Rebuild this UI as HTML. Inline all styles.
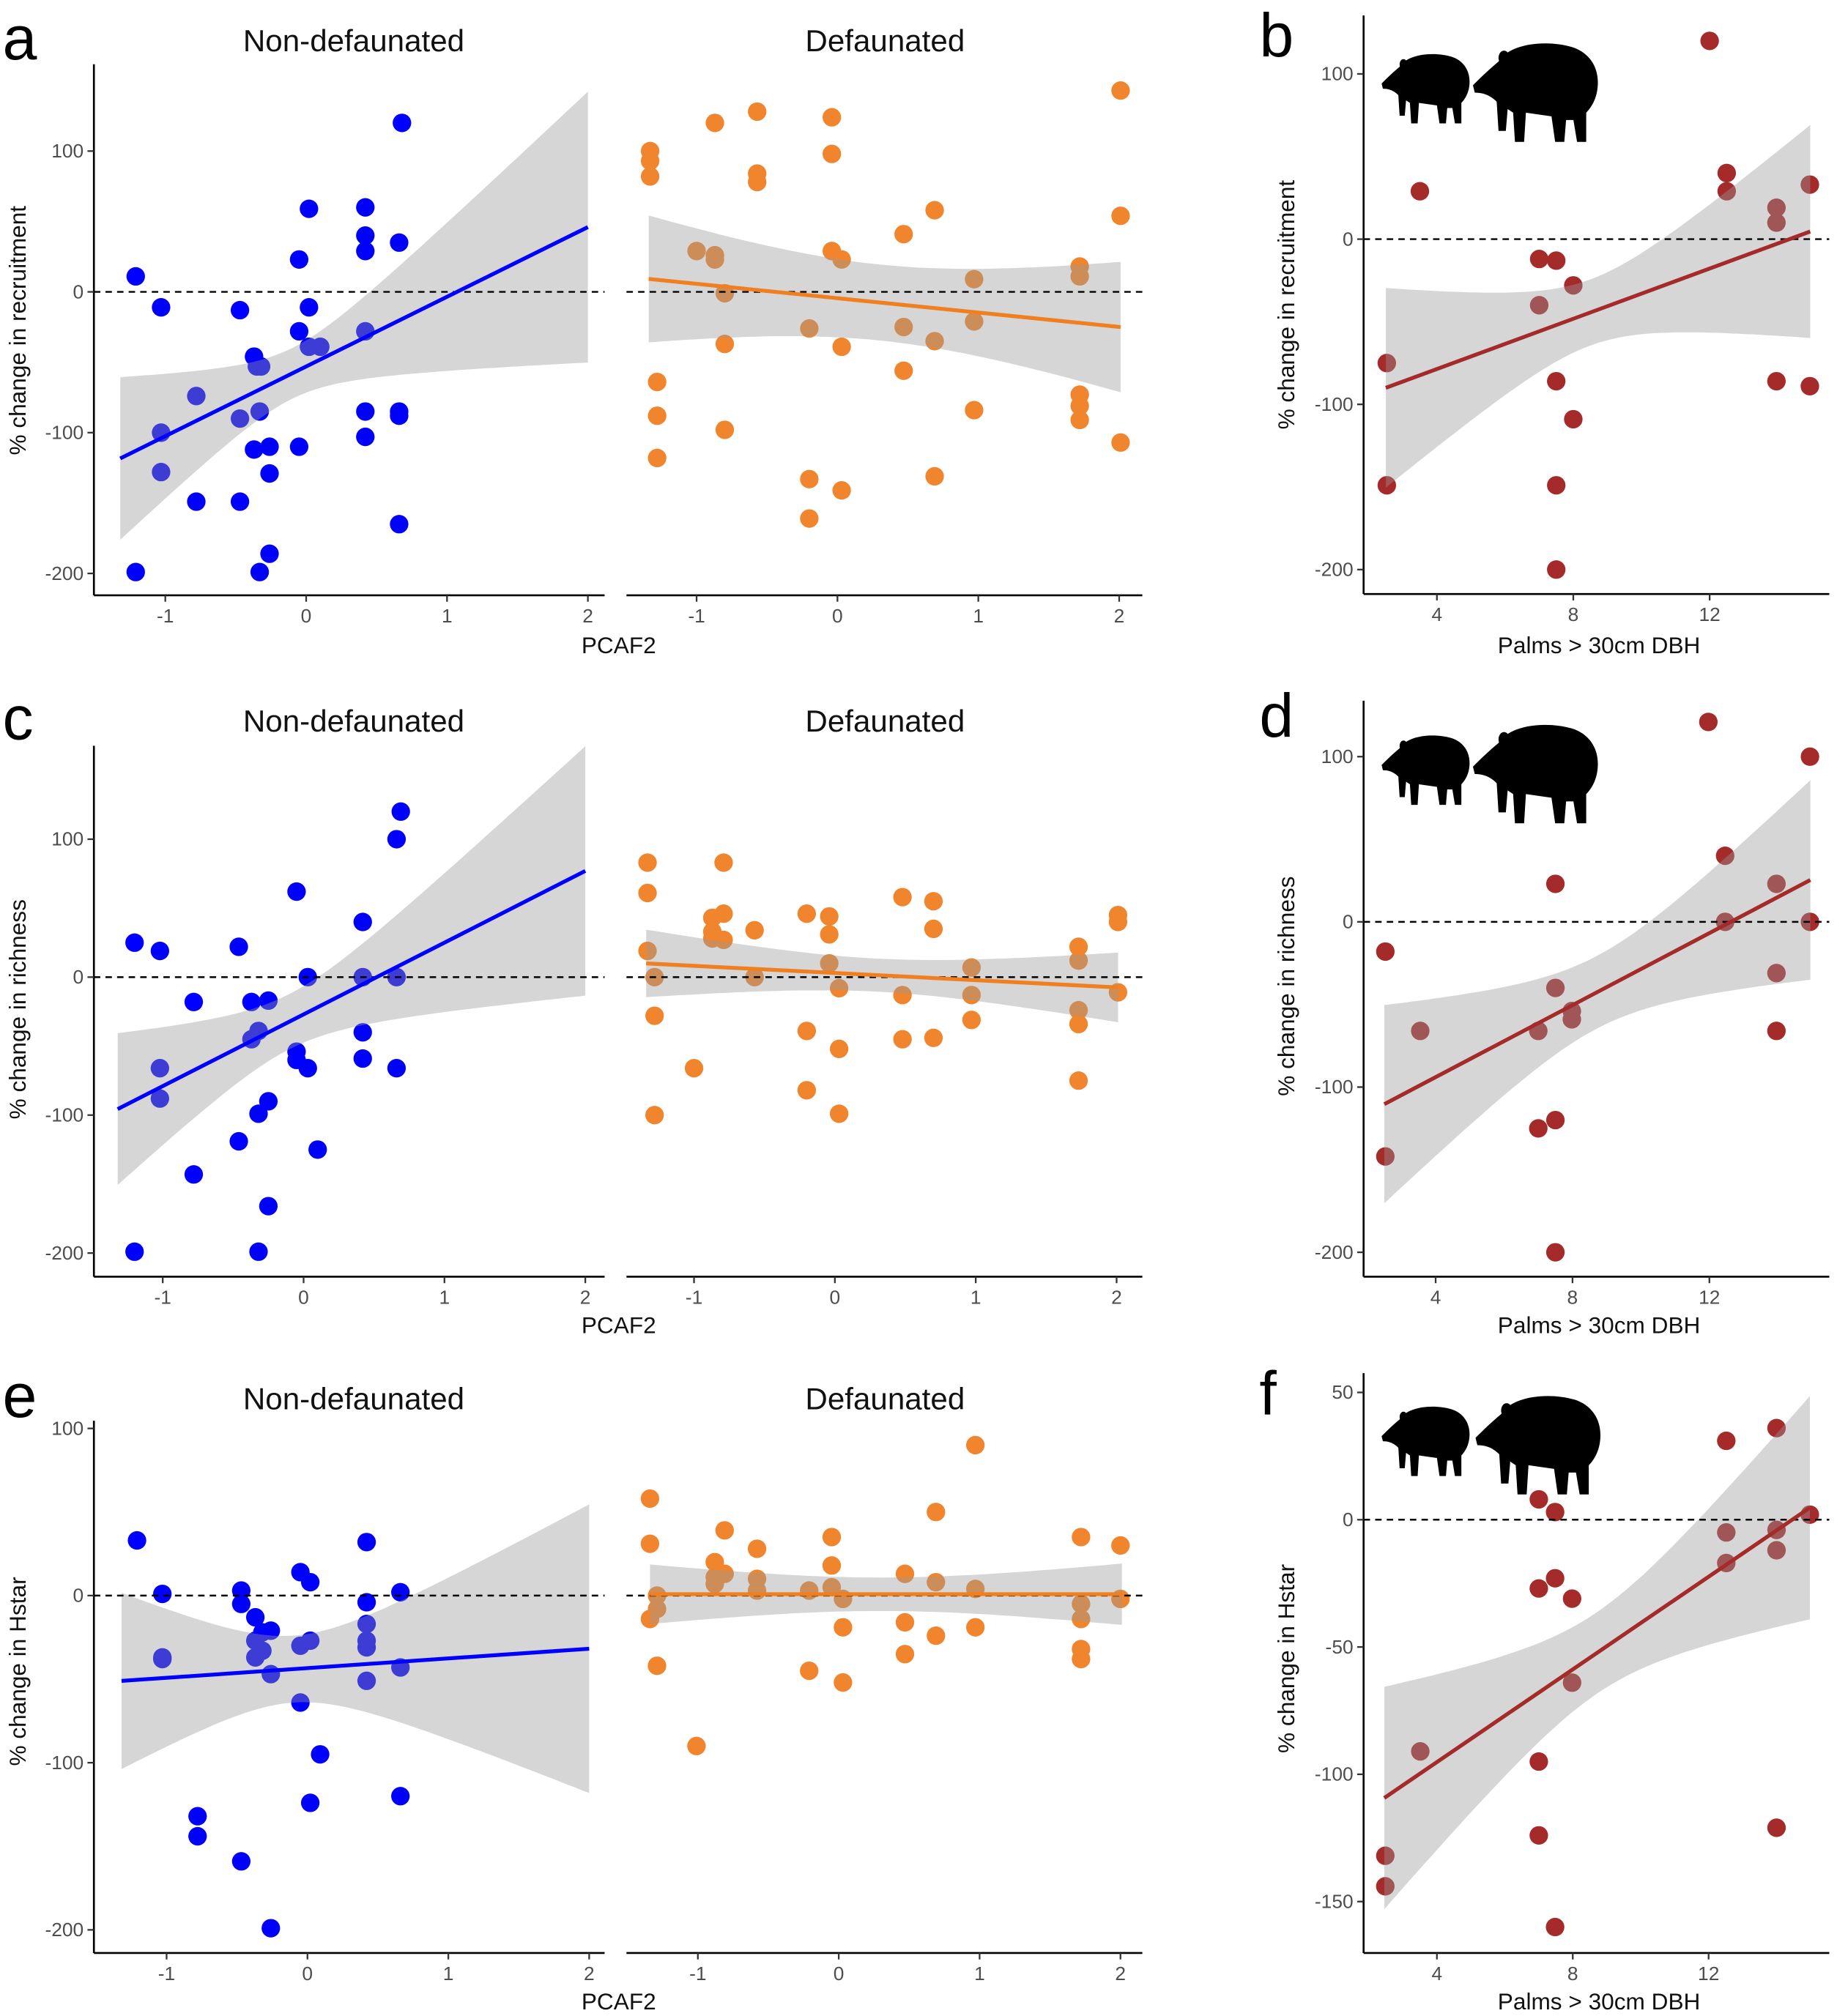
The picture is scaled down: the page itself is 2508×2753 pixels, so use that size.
<!DOCTYPE html>
<html><head><meta charset="utf-8">
<style>
html,body{margin:0;padding:0;background:#fff;}
svg{display:block;font-family:"Liberation Sans",Arial,sans-serif;}
</style></head>
<body>
<svg id="fig" width="2508" height="2753" viewBox="0 0 1428 1568" preserveAspectRatio="none" xmlns="http://www.w3.org/2000/svg"></svg>
<script>
// ---------- DATA ----------
const pcafTicks = [-1, 0, 1, 2];
const palmTicks = [4, 8, 12];
const recTicks = [100, 0, -100, -200];
const richTicks = [100, 0, -100, -200];
const hstarTicks = [100, 0, -100, -200];
const hstarPalmTicks = [50, 0, -50, -100, -150];

const aNonX = [-1.21,-1.03,-1.03,-1.03,-1.21,-0.78,-0.78,-0.47,-0.47,-0.47,-0.37,-0.35,-0.32,-0.33,-0.37,-0.26,-0.26,-0.26,-0.33,-0.05,-0.05,-0.05,0.02,0.02,0.02,0.1,0.42,0.42,0.42,0.42,0.42,0.42,0.66,0.68,0.66,0.66,0.66];
const aNonY = [11,-11,-100,-128,-199,-74,-149,-13,-90,-149,-46,-53,-53,-85,-112,-110,-129,-186,-199,23,-28,-110,59,-11,-39,-39,60,40,29,-28,-85,-103,35,120,-85,-88,-165];
const aDefX = [-1.33,-1.33,-1.33,-1.28,-1.28,-1.28,-1.0,-0.87,-0.87,-0.87,-0.8,-0.8,-0.8,-0.57,-0.57,-0.57,-0.2,-0.2,-0.2,-0.04,-0.04,-0.04,0.03,0.03,0.03,0.47,0.47,0.47,0.69,0.69,0.69,0.97,0.97,0.97,1.72,1.72,1.72,1.72,1.72,2.01,2.01,2.01];
const aDefY = [100,93,82,-64,-88,-118,29,120,26,23,-1,-37,-98,128,84,78,-26,-133,-161,124,98,29,23,-39,-141,41,-25,-56,58,-35,-131,9,-21,-84,18,11,-73,-81,-91,143,54,-107];
const bX = [2.53,2.53,3.5,7.0,7.0,7.5,7.5,7.5,7.5,8.0,8.0,12.0,12.5,12.5,13.96,13.96,13.96,14.94,14.94];
const bY = [-75,-149,29,-12,-40,-13,-86,-149,-200,-28,-109,120,40,29,19,10,-86,33,-89];

const cNonX = [-1.2,-1.02,-1.02,-1.02,-1.2,-0.78,-0.78,-0.46,-0.46,-0.37,-0.37,-0.32,-0.32,-0.32,-0.25,-0.25,-0.25,-0.05,-0.05,-0.05,0.03,0.03,0.1,0.42,0.42,0.42,0.42,0.66,0.69,0.66,0.66];
const cNonY = [25,19,-66,-88,-199,-18,-143,22,-119,-18,-45,-39,-99,-199,-17,-90,-166,62,-54,-60,0,-66,-125,40,0,-40,-59,100,120,0,-66];
const cDefX = [-1.33,-1.33,-1.33,-1.28,-1.28,-1.28,-1.0,-0.87,-0.87,-0.87,-0.79,-0.79,-0.79,-0.57,-0.57,-0.2,-0.2,-0.2,-0.04,-0.04,-0.04,0.03,0.03,0.03,0.48,0.48,0.48,0.7,0.7,0.7,0.97,0.97,0.97,1.73,1.73,1.73,1.73,1.73,2.01,2.01,2.01];
const cDefY = [83,61,19,0,-28,-100,-66,43,33,28,83,46,27,34,0,46,-39,-82,44,31,10,-8,-52,-99,58,-13,-45,55,35,-44,7,-13,-31,22,12,-24,-34,-75,45,40,-11];
const dX = [2.53,2.53,3.55,7.0,7.0,7.5,7.5,7.5,7.5,7.98,7.98,11.97,12.46,12.46,13.96,13.96,13.96,14.94,14.94];
const dY = [-18,-142,-66,-66,-125,23,-40,-120,-200,-54,-59,121,40,0,23,-31,-66,100,0];

const eNonX = [-1.21,-1.03,-1.03,-1.03,-0.78,-0.78,-0.47,-0.47,-0.47,-0.37,-0.37,-0.37,-0.32,-0.32,-0.26,-0.26,-0.26,-0.05,-0.05,-0.05,0.02,0.02,0.02,0.09,0.42,0.42,0.42,0.42,0.42,0.42,0.66,0.66,0.66];
const eNonY = [33,1,-37,-38,-132,-144,3,-5,-159,-13,-27,-37,-22,-33,-21,-47,-199,14,-30,-64,8,-27,-124,-95,32,-4,-17,-27,-31,-51,2,-43,-120];
const eDefX = [-1.34,-1.34,-1.34,-1.29,-1.29,-1.29,-1.01,-0.88,-0.88,-0.88,-0.81,-0.81,-0.58,-0.58,-0.58,-0.21,-0.21,-0.05,-0.05,-0.05,0.03,0.03,0.03,0.47,0.47,0.47,0.69,0.69,0.69,0.97,0.97,0.97,1.72,1.72,1.72,1.72,1.72,2.0,2.0];
const eDefY = [58,31,-14,0,-8,-42,-90,20,11,7,39,13,28,10,3,3,-45,35,18,5,-2,-19,-52,13,-16,-35,50,8,-24,90,4,-19,35,-5,-14,-32,-38,30,-2];
const fX = [2.48,2.48,3.51,7.0,7.0,7.0,7.0,7.48,7.48,7.48,7.98,7.98,12.52,12.52,12.52,14.0,14.0,14.0,14.0,14.98];
const fY = [-132,-144,-91,8,-27,-95,-124,3,-23,-160,-31,-64,31,-5,-17,36,-4,-12,-121,2];

// fit: [intercept, slope]; band: [x mean, se at mean, se slope factor]
const aNonFit = [-53, 49.5], aNonBand = [-0.1, 18, 45];
const aDefFit = [-4.5, -10.2], aDefBand = [0.3, 27, 22];
const bFit = [-109, 7.6], bBand = [8.5, 20, 9.5];
const cNonFit = [-27, 52], cNonBand = [-0.1, 20, 42];
const cDefFit = [3, -5.2], cDefBand = [0.3, 12, 13];
const dFit = [-137.6, 10.9], dBand = [8.7, 22, 9];
const eNonFit = [-43.4, 5.8], eNonBand = [-0.1, 20, 40];
const eDefFit = [0.8, 0], eDefBand = [0.3, 10, 9];
const fFit = [-131.6, 9.1], fBand = [8.7, 16, 6.5];

// ---------- DRAW ----------
const NS = "http://www.w3.org/2000/svg";
const svg = document.getElementById('fig');
function el(tag, attrs, parent){
  const e = document.createElementNS(NS, tag);
  for (const k in attrs) e.setAttribute(k, attrs[k]);
  (parent||svg).appendChild(e);
  return e;
}
function txt(s, attrs, name){
  const t = el('text', attrs);
  t.textContent = s;
  
  
  return t;
}

function panel(cfg){
  const g = el('g', {});
  
  
  const sx = v => cfg.x0 + (v - cfg.xv0) * cfg.kx;
  const sy = v => cfg.y0 - v * cfg.ky;
  for (let i = 0; i < cfg.xs.length; i++){
    const c = el('circle', {cx: sx(cfg.xs[i]), cy: sy(cfg.ys[i]), r: 7.2, fill: cfg.color}, g);
    
    
  }
  const n = 60, up = [], lo = [];
  for (let i = 0; i <= n; i++){
    const x = cfg.lx0 + (cfg.lx1 - cfg.lx0) * i / n;
    const m = cfg.fit[0] + cfg.fit[1] * x;
    const dx = x - cfg.band[0];
    const h = Math.sqrt(cfg.band[1]*cfg.band[1] + cfg.band[2]*cfg.band[2]*dx*dx);
    up.push(sx(x).toFixed(1) + ',' + sy(m + h).toFixed(1));
    lo.unshift(sx(x).toFixed(1) + ',' + sy(m - h).toFixed(1));
  }
  const band = el('polygon', {points: up.concat(lo).join(' '), fill: '#999999', 'fill-opacity': 0.4}, g);
  
  
  const z = el('line', {x1: cfg.ax0, x2: cfg.ax1, y1: sy(0), y2: sy(0), stroke: '#000', 'stroke-width': 1.4, 'stroke-dasharray': '5,4'}, g);
  
  
  const fl = el('line', {x1: sx(cfg.lx0), y1: sy(cfg.fit[0] + cfg.fit[1]*cfg.lx0), x2: sx(cfg.lx1), y2: sy(cfg.fit[0] + cfg.fit[1]*cfg.lx1), stroke: cfg.lineColor, 'stroke-width': 3}, g);
  
  
  const xa = el('line', {x1: cfg.ax0, x2: cfg.ax1, y1: cfg.axY, y2: cfg.axY, stroke: '#000', 'stroke-width': 1.5}, g);
  
  
  cfg.xticks.forEach(t => {
    el('line', {x1: sx(t), x2: sx(t), y1: cfg.axY, y2: cfg.axY + 5, stroke: '#333', 'stroke-width': 1.3}, g);
    txt(String(t), {x: sx(t), y: cfg.axY + 21, 'text-anchor': 'middle', 'font-size': 15, fill: '#4d4d4d'}, 'x-tick-label');
  });
  if (cfg.yticks){
    const ya = el('line', {x1: cfg.ax0, x2: cfg.ax0, y1: cfg.yTop, y2: cfg.axY, stroke: '#000', 'stroke-width': 1.5}, g);
    
    
    cfg.yticks.forEach(t => {
      el('line', {x1: cfg.ax0 - 5, x2: cfg.ax0, y1: sy(t), y2: sy(t), stroke: '#333', 'stroke-width': 1.3}, g);
      txt(String(t), {x: cfg.ax0 - 8, y: sy(t) + 5, 'text-anchor': 'end', 'font-size': 15, fill: '#4d4d4d'}, 'y-tick-label');
    });
  }
}

const BLUE = '#0000ff', ORANGE = '#f0852d', RED = '#a52a2a';
const rows = [
  {y0: 227, ky: 1.095, axY: 463, yTop: 50, yt: recTicks, nx: 238, dx: 651, nX: aNonX, nY: aNonY, dX_: aDefX, dY_: aDefY, nF: aNonFit, nB: aNonBand, dF: aDefFit, dB: aDefBand, lab: 'a'},
  {y0: 760, ky: 1.073, axY: 993, yTop: 580, yt: richTicks, nx: 236, dx: 649, nX: cNonX, nY: cNonY, dX_: cDefX, dY_: cDefY, nF: cNonFit, nB: cNonBand, dF: cDefFit, dB: cDefBand, lab: 'c'},
  {y0: 1241, ky: 1.3, axY: 1519, yTop: 1105, yt: hstarTicks, nx: 239, dx: 652, nX: eNonX, nY: eNonY, dX_: eDefX, dY_: eDefY, nF: eNonFit, nB: eNonBand, dF: eDefFit, dB: eDefBand, lab: 'e'}
];
rows.forEach(r => {
  panel({name: 'panel-' + r.lab + '-non-defaunated', x0: r.nx, xv0: 0, kx: 109.5, y0: r.y0, ky: r.ky, xs: r.nX, ys: r.nY, color: BLUE, lineColor: BLUE, fit: r.nF, band: r.nB, lx0: -1.32, lx1: 2.0, ax0: 73, ax1: 470, axY: r.axY, yTop: r.yTop, xticks: pcafTicks, yticks: r.yt});
  panel({name: 'panel-' + r.lab + '-defaunated', x0: r.dx, xv0: 0, kx: 109.5, y0: r.y0, ky: r.ky, xs: r.dX_, ys: r.dY_, color: ORANGE, lineColor: '#f07f1f', fit: r.dF, band: r.dB, lx0: -1.34, lx1: 2.01, ax0: 487, ax1: 888, axY: r.axY, xticks: pcafTicks, yticks: null});
});
panel({name: 'panel-b', x0: 1117, xv0: 4, kx: 26.5, y0: 186, ky: 1.285, xs: bX, ys: bY, color: RED, lineColor: RED, fit: bFit, band: bBand, lx0: 2.5, lx1: 14.95, ax0: 1060, ax1: 1422, axY: 462, yTop: 12, xticks: palmTicks, yticks: recTicks});
panel({name: 'panel-d', x0: 1116, xv0: 4, kx: 26.6, y0: 717, ky: 1.285, xs: dX, ys: dY, color: RED, lineColor: RED, fit: dFit, band: dBand, lx0: 2.5, lx1: 14.95, ax0: 1060, ax1: 1422, axY: 993, yTop: 545, xticks: palmTicks, yticks: richTicks});
panel({name: 'panel-f', x0: 1117, xv0: 4, kx: 26.4, y0: 1182, ky: 1.98, xs: fX, ys: fY, color: RED, lineColor: RED, fit: fFit, band: fBand, lx0: 2.45, lx1: 14.98, ax0: 1060, ax1: 1422, axY: 1519, yTop: 1068, xticks: palmTicks, yticks: hstarPalmTicks});

[[32, 'a', 'b'], [561, 'c', 'd'], [1088, 'e', 'f']].forEach((r, i) => {
  txt('Non-defaunated', {x: 275, y: r[0] + 8, 'text-anchor': 'middle', 'font-size': 24, fill: '#111'}, 'facet-title-non-defaunated');
  txt('Defaunated', {x: 688, y: r[0] + 8, 'text-anchor': 'middle', 'font-size': 24, fill: '#111'}, 'facet-title-defaunated');
  txt(r[1], {x: 2, y: r[0] + 14, 'font-size': 48, fill: '#000'}, 'panel-letter-' + r[1]);
  txt(r[2], {x: 979, y: r[0] + 12, 'font-size': 48, fill: '#000'}, 'panel-letter-' + r[2]);
});
[[502, 'recruitment', 257, 237], [1031, 'richness', 785, 767], [1557, 'Hstar', 1300, 1290]].forEach(r => {
  txt('PCAF2', {x: 481, y: r[0] + 6, 'text-anchor': 'middle', 'font-size': 18, fill: '#111'}, 'x-axis-title');
  txt('Palms > 30cm DBH', {x: 1243, y: r[0] + 6, 'text-anchor': 'middle', 'font-size': 18, fill: '#111'}, 'x-axis-title');
  txt('% change in ' + r[1], {x: 0, y: 0, 'text-anchor': 'middle', 'font-size': 18, fill: '#111', transform: 'translate(20,' + r[2] + ') rotate(-90)'}, 'y-axis-title');
  txt('% change in ' + r[1], {x: 0, y: 0, 'text-anchor': 'middle', 'font-size': 18, fill: '#111', transform: 'translate(1006,' + r[3] + ') rotate(-90)'}, 'y-axis-title');
});

function tapir(x, y, s, name){
  const g = el('g', {transform: 'translate(' + x + ',' + y + ') scale(' + s + ')', fill: '#000'});
  
  
  el('path', {d: 'M14,14 C20,4 40,2 54,6 C64,9 70,18 68,30 C67,36 64,40 62,42 L62,58 L57,58 L55,46 L51,46 L50,58 L45,58 L43,44 L29,42 L28,58 L23,58 L22,42 L19,40 L18,52 L14,52 L13,36 C9,32 5,31 1,31 L0,27 C4,23 8,19 14,14 Z'}, g);
  el('ellipse', {cx: 17, cy: 12, rx: 3, ry: 4}, g);
}
tapir(1074, 38, 1.0, 'tapir-icon-small');
tapir(1145, 28, 1.42, 'tapir-icon-large');
tapir(1074, 568, 1.0, 'tapir-icon-small');
tapir(1145, 558, 1.42, 'tapir-icon-large');
tapir(1074, 1090, 1.0, 'tapir-icon-small');
tapir(1147, 1080, 1.42, 'tapir-icon-large');
</script>
</body></html>
